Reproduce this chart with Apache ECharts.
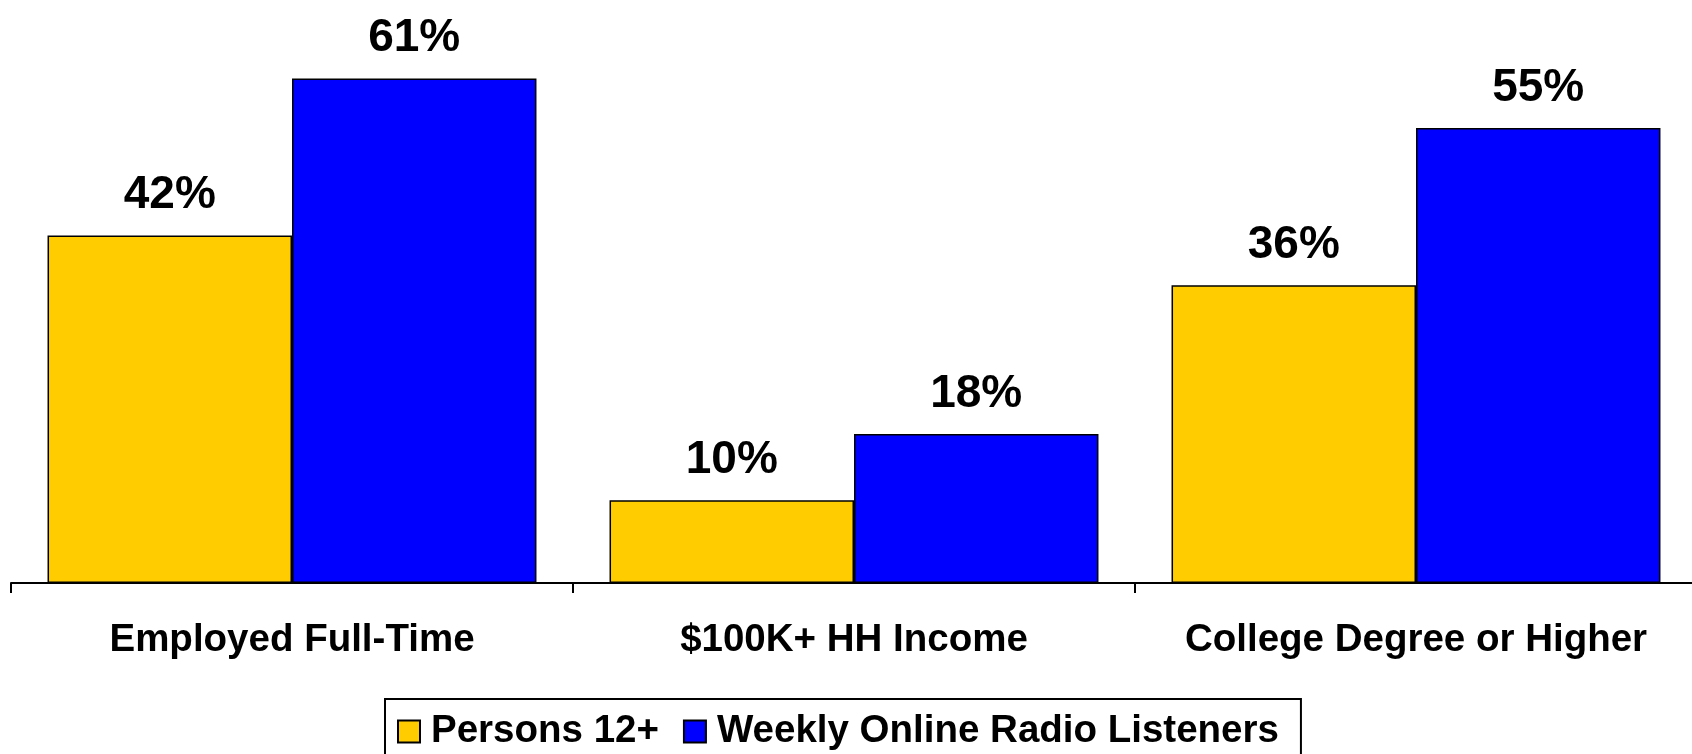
<!DOCTYPE html>
<html>
<head>
<meta charset="utf-8">
<script src="https://cdn.jsdelivr.net/npm/echarts@6/dist/echarts.min.js"></script>
<style>
  html, body { margin: 0; padding: 0; background: #fff; }
  #main { width: 1692px; height: 754px; }
</style>
</head>
<body>
<div id="main"></div>
<script>
// Datos del gráfico
const categories = ["Employed Full-Time", "$100K+ HH Income", "College Degree or Higher"];
const seriesNames = ["Persons 12+", "Weekly Online Radio Listeners"];
const persons12 = [42, 10, 36];
const weeklyListeners = [61, 18, 55];

const FONT = "'Liberation Sans', Arial, sans-serif";

const initEChart = () => {
  const chartDom = document.getElementById("main");
  const myChart = echarts.init(chartDom, null, { renderer: "canvas" });

  const labelStyle = {
    show: true,
    position: "top",
    distance: 17,
    formatter: "{c}%",
    color: "#000",
    fontFamily: FONT,
    fontWeight: "bold",
    fontSize: 46,
  };

  const option = {
    animation: false,
    backgroundColor: "#fff",
    grid: {
      left: 11,
      width: 1686,
      top: 4,
      bottom: 171,
      containLabel: false,
      outerBoundsMode: "none",
    },
    legend: {
      data: seriesNames,
      icon: "rect",
      left: 385,
      top: 699,
      orient: "horizontal",
      itemWidth: 22,
      itemHeight: 22,
      itemGap: 24,
      borderColor: "#000",
      borderWidth: 2,
      padding: [13, 22, 20, 12],
      backgroundColor: "#fff",
      textStyle: {
        color: "#000",
        fontFamily: FONT,
        fontWeight: "bold",
        fontSize: 38.5,
        padding: [0, 0, 0, 6],
      },
    },
    xAxis: {
      type: "category",
      data: categories,
      axisLine: { show: true, lineStyle: { color: "#000", width: 2 } },
      axisTick: { show: true, interval: 0, length: 10, lineStyle: { color: "#000", width: 2 } },
      axisLabel: {
        interval: 0,
        color: "#000",
        fontFamily: FONT,
        fontWeight: "bold",
        fontSize: 38.5,
        margin: 38,
      },
    },
    yAxis: {
      type: "value",
      min: 0,
      max: 70,
      show: false,
      splitLine: { show: false },
    },
    series: [
      {
        name: seriesNames[0],
        type: "bar",
        data: persons12,
        barGap: "0%",
        barCategoryGap: "13%",
        itemStyle: { color: "#FFCC00", borderColor: "#000", borderWidth: 1.5 },
        label: labelStyle,
      },
      {
        name: seriesNames[1],
        type: "bar",
        data: weeklyListeners,
        barGap: "0%",
        barCategoryGap: "13%",
        itemStyle: { color: "#0000FF", borderColor: "#000", borderWidth: 1.5 },
        label: labelStyle,
      },
    ],
  };

  myChart.setOption(option);
  return myChart;
};

let chartInstance = initEChart();
</script>
</body>
</html>
